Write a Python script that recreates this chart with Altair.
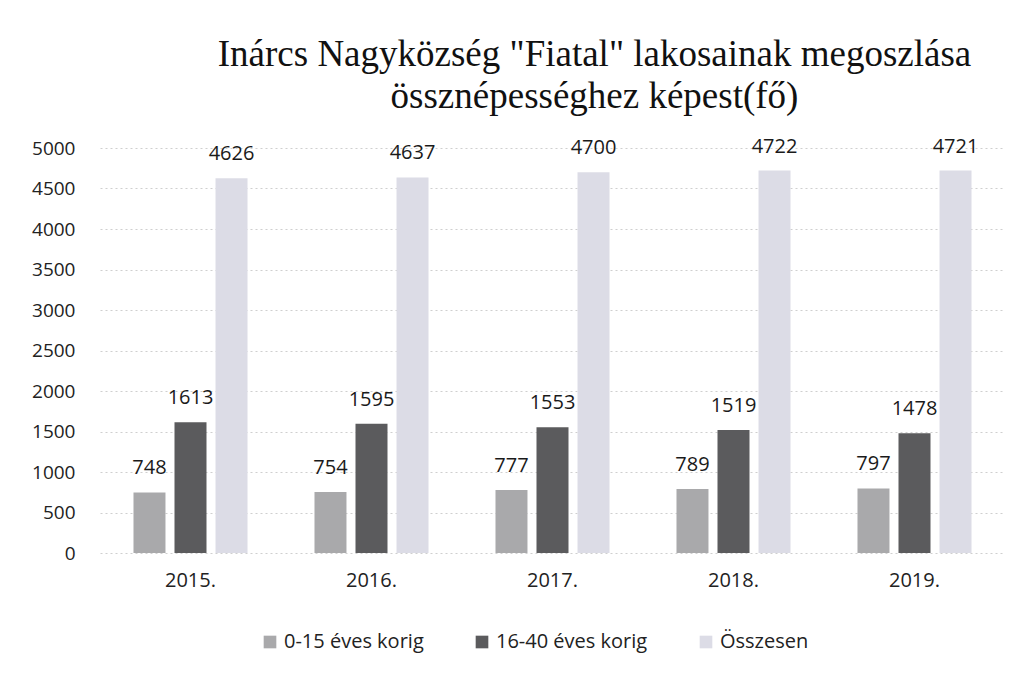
import altair as alt
import pandas as pd

years = ["2015.", "2016.", "2017.", "2018.", "2019."]
series = ["0-15 éves korig", "16-40 éves korig", "Összesen"]
young = [748, 754, 777, 789, 797]
mid = [1613, 1595, 1553, 1519, 1478]
total = [4626, 4637, 4700, 4722, 4721]
colors = ["#a9a9ab", "#5b5b5d", "#dcdce6"]

rows = []
for i, y in enumerate(years):
    for s, vals in zip(series, [young, mid, total]):
        rows.append({"year": y, "series": s, "value": vals[i]})
df = pd.DataFrame(rows)

x = alt.X("year:N", sort=years, title=None,
          scale=alt.Scale(paddingInner=0.37, paddingOuter=0.185),
          axis=alt.Axis(labelAngle=0, labelFontSize=20, labelColor="#222222",
                        labelFont="Open Sans", labelPadding=17, ticks=False,
                        domain=False))
xo = alt.XOffset("series:N", sort=series, scale=alt.Scale(paddingInner=0.22))
y = alt.Y("value:Q", title=None,
          scale=alt.Scale(domain=[0, 5000]),
          axis=alt.Axis(values=list(range(0, 5001, 500)), format="d",
                        labelFontSize=19, labelColor="#222222", labelFont="Open Sans",
                        labelPadding=25, ticks=False, domain=False,
                        gridColor="#cfcfcf", gridDash=[2, 3], gridWidth=1.2))

bars = alt.Chart(df).mark_bar().encode(
    x=x, xOffset=xo, y=y,
    color=alt.Color("series:N", sort=series,
                    scale=alt.Scale(domain=series, range=colors),
                    legend=alt.Legend(title=None, orient="none", direction="horizontal",
                                      legendX=160, legendY=484,
                                      labelFontSize=20, labelFont="Open Sans",
                                      labelColor="#222222", symbolType="square",
                                      symbolSize=160, symbolStrokeWidth=0,
                                      columnPadding=48, labelLimit=300))
)
labels = alt.Chart(df).mark_text(baseline="bottom", dy=-14, fontSize=20,
                                 font="Open Sans", fontWeight=500,
                                 color="#1a1a1a").encode(
    x=alt.X("year:N", sort=years), xOffset=alt.XOffset("series:N", sort=series),
    y="value:Q", text="value:Q"
)

chart = (bars + labels).properties(
    width=905, height=405,
    title=alt.TitleParams(
        text=['Inárcs Nagyközség "Fiatal" lakosainak megoszlása',
              "össznépességhez képest(fő)"],
        font="Liberation Serif", fontSize=37, fontWeight="normal",
        color="#111111", anchor="middle", dx=42, offset=21, lineHeight=42),
    autosize=alt.AutoSizeParams(type="none"),
    padding={"left": 92, "top": 140, "right": 5, "bottom": 120},
).configure(background="white", view=alt.ViewConfig(stroke=None))

chart.save("out.html", embed_options={"renderer": "svg", "actions": False})
